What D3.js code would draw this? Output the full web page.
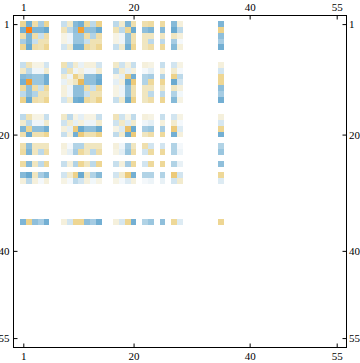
<!DOCTYPE html>
<html>
<head>
    <title>Matrix plot</title>
    <style>
        html, body { margin: 0; background: #fff; }
        svg { display: block; }
        text { font-family: "Liberation Serif", serif; font-size: 11px; fill: #000; }
    </style>
    <script src="https://d3js.org/d3.v7.min.js"></script>
</head>
<body>
    <svg id="chart"></svg>
    <script>
        // matrix positions that hold a value, everything else stays white
        const indices = [1, 2, 3, 4, 5, 8, 9, 10, 11, 12, 13, 14, 17, 18, 19, 20, 22, 23, 25, 27, 28, 35];
        const tickLabels = [1, 20, 40, 55];

        const values = [
            [.45, -.65, .35, -.4, .45, -.25, .22, -.55, -.65, .4, -.3, .5, -.3, .2, -.6, .33, .33, .38, .38, -.55, .15, -.6],
            [-.65, 1, -.6, -.6, -.7, .28, -.3, -.5, .8, -.5, -.5, -.7, .3, -.3, .45, -.7, -.5, -.6, -.55, -.7, -.3, .5],
            [.35, -.6, .35, -.25, .35, .12, -.07, -.45, -.45, .35, -.35, .35, .12, -.07, -.5, .32, .25, .25, .25, .25, .15, -.5],
            [-.4, -.6, -.25, .3, .3, .12, -.07, -.45, -.45, -.25, .3, .3, .12, -.07, -.5, .32, .25, -.3, -.3, -.4, -.05, -.4],
            [.45, -.7, .35, .3, .45, -.2, .2, -.65, -.65, .4, .3, .45, -.25, .2, -.65, .45, .25, .35, .4, -.55, .15, -.65],
            [-.25, .28, .12, .12, -.2, .3, -.25, .2, -.1, .15, .15, -.2, .22, -.22, .15, -.25, .15, .12, -.25, -.2, .12, .15],
            [.22, -.3, -.07, -.07, .2, -.25, .3, -.08, .15, -.07, -.07, .2, -.3, .2, -.12, .15, -.05, -.12, .15, .2, -.05, -.2],
            [-.55, -.5, -.45, -.45, -.65, .2, -.08, .5, .25, -.5, -.5, -.65, .12, -.12, .55, -.65, -.35, -.4, -.35, .5, -.3, .45],
            [-.65, .8, -.45, -.45, -.65, -.1, .15, .25, .65, -.5, -.5, -.7, -.12, .15, -.7, .55, -.35, .4, .45, -.7, -.2, .45],
            [.4, -.5, .35, -.25, .4, .15, -.07, -.5, -.5, .35, -.25, .4, .12, -.08, -.5, .32, .25, .25, .25, .25, .15, -.5],
            [-.3, -.5, -.35, .3, .3, .15, -.07, -.5, -.5, -.25, .3, .3, .12, -.08, -.5, .32, .25, -.3, -.3, -.35, -.06, -.4],
            [.5, -.7, .35, .3, .45, -.2, .2, -.65, -.7, .4, .3, .5, -.25, .2, -.7, .5, .25, .35, .45, -.55, .12, -.65],
            [-.3, .3, .12, .12, -.25, .22, -.3, .12, -.12, .12, .12, -.25, .28, -.22, .12, -.28, .15, .12, -.25, -.2, .12, .15],
            [.2, -.3, -.07, -.07, .2, -.22, .2, -.12, .15, -.08, -.08, .2, -.22, .22, -.15, .2, -.07, -.12, .15, .2, -.05, -.18],
            [-.6, .45, -.5, -.5, -.65, .15, -.12, .55, -.7, -.5, -.5, -.7, .12, -.15, .6, -.7, -.4, -.45, -.4, .55, -.15, .45],
            [.33, -.7, .32, .32, .45, -.25, .15, -.65, .55, .32, .32, .5, -.28, .2, -.7, .55, .25, .35, .4, -.65, .15, -.65],
            [.33, -.5, .25, .25, .25, .15, -.05, -.35, -.35, .25, .25, .25, .15, -.07, -.4, .25, .33, -.2, -.2, -.35, -.05, -.35],
            [.38, -.6, .25, -.3, .35, .12, -.12, -.4, .4, .25, -.3, .35, .12, -.12, -.45, .35, -.2, .38, .4, -.35, -.08, -.45],
            [.38, -.55, .25, -.3, .4, -.25, .15, -.35, .45, .25, -.3, .45, -.25, .15, -.4, .4, -.2, .4, .42, -.35, -.1, -.5],
            [-.55, -.7, .25, -.4, -.55, -.2, .2, .5, -.7, .25, -.35, -.55, -.2, .2, .55, -.65, -.35, -.35, -.35, .55, -.2, .42],
            [.15, -.3, .15, -.05, .15, .12, -.05, -.3, -.2, .15, -.06, .12, .12, -.05, -.15, .15, -.05, -.08, -.1, -.2, .2, -.15],
            [-.6, .5, -.5, -.4, -.65, .15, -.2, .45, .45, -.5, -.4, -.65, .15, -.18, .45, -.65, -.35, -.45, -.5, .42, -.15, .45]
        ];

        const size = { width: 360, height: 363 };
        const frame = { left: 13.5, right: 346.5, top: 15.5, bottom: 347.5 };

        const svg = d3.select("#chart")
            .attr("width", size.width)
            .attr("height", size.height);

        const x = d3.scaleLinear().domain([0.5, 55.5]).range([20.4, 339.6]);
        const y = d3.scaleLinear().domain([0.5, 55.5]).range([21.2, 341]);

        const color = d3.scaleLinear()
            .domain([-.7, -.5, -.3, -.1, 0, .12, .25, .4, .5, .7, 1])
            .range(["#6aaad0", "#8fbfdb", "#bcd9ea", "#e8f1f6", "#ffffff", "#f6f3e4", "#f0e6c0", "#eed99c", "#edd28a", "#e8b04a", "#ff7f0f"])
            .clamp(true);

        const rows = svg.append("g")
            .selectAll("g")
            .data(values)
            .join("g");

        rows.selectAll("rect")
            .data((row, i) => row.map((v, j) => ({ r: indices[i], c: indices[j], v: v })))
            .join("rect")
            .attr("x", d => x(d.c - 0.5))
            .attr("y", d => y(d.r - 0.5))
            .attr("width", d => x(d.c + 0.5) - x(d.c - 0.5))
            .attr("height", d => y(d.r + 0.5) - y(d.r - 0.5))
            .attr("shape-rendering", "crispEdges")
            .attr("fill", d => color(d.v));

        svg.append("rect")
            .attr("x", frame.left)
            .attr("y", frame.top)
            .attr("width", frame.right - frame.left)
            .attr("height", frame.bottom - frame.top)
            .attr("fill", "none")
            .attr("stroke", "#000");

        // ticks point inwards on all four sides
        function styleAxis(g) {
            g.select(".domain").remove();
            g.selectAll("line").attr("stroke", "#000");
            g.selectAll("text").attr("font-size", null).attr("font-family", null);
        }

        svg.append("g")
            .attr("transform", "translate(0," + frame.top + ")")
            .call(d3.axisTop(x).tickValues(tickLabels).tickSizeInner(-4).tickSizeOuter(0).tickPadding(5))
            .call(styleAxis);
        svg.append("g")
            .attr("transform", "translate(0," + frame.bottom + ")")
            .call(d3.axisBottom(x).tickValues(tickLabels).tickSizeInner(-4).tickSizeOuter(0).tickPadding(5))
            .call(styleAxis);
        svg.append("g")
            .attr("transform", "translate(" + frame.left + ",0)")
            .call(d3.axisLeft(y).tickValues(tickLabels).tickSizeInner(-4).tickSizeOuter(0).tickPadding(4))
            .call(styleAxis);
        svg.append("g")
            .attr("transform", "translate(" + frame.right + ",0)")
            .call(d3.axisRight(y).tickValues(tickLabels).tickSizeInner(-4).tickSizeOuter(0).tickPadding(2.5))
            .call(styleAxis);
    </script>
</body>
</html>
